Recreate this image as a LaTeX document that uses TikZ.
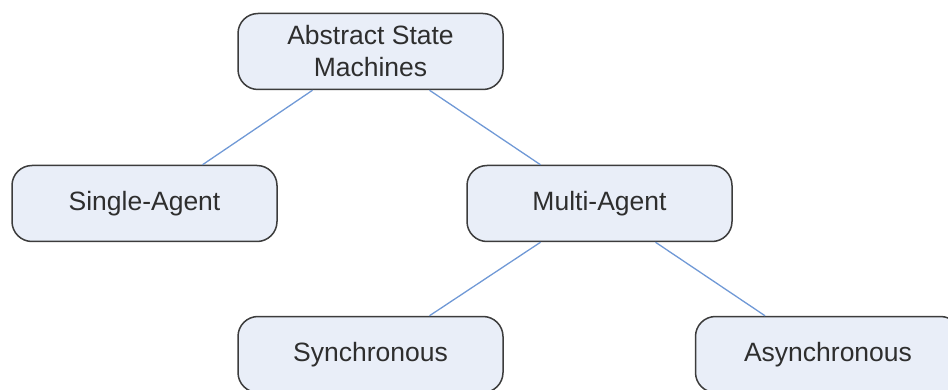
\documentclass[tikz,border=0pt]{standalone}
\usepackage{fontspec}
\setmainfont{Liberation Sans}
\definecolor{boxfill}{HTML}{E9EEF8}
\definecolor{boxdraw}{HTML}{3C3C3C}
\definecolor{linkblue}{HTML}{7099D6}
\definecolor{txt}{HTML}{2E2E2E}
\begin{document}
\begin{tikzpicture}[x=1pt,y=-1pt,
  box/.style={draw=boxdraw, line width=1.5pt, fill=boxfill, rounded corners=20pt,
    minimum width=265pt, minimum height=76pt, inner sep=0pt, align=center,
    text=txt, font=\fontsize{26.5}{32}\selectfont},
  link/.style={draw=linkblue, line width=1.3pt}]
\useasboundingbox (0,0) rectangle (948,390);
\node[box] (asm) at (370.5,51.5) {Abstract State\\Machines};
\node[box] (single) at (144.5,203.5) {Single-Agent};
\node[box] (multi) at (599.5,203.5) {Multi-Agent};
\node[box] (sync) at (370.5,354.5) {Synchronous};
\node[box] (async) at (828,354.5) {Asynchronous};
\draw[link] ([xshift=-58pt]asm.south) -- ([xshift=58pt]single.north);
\draw[link] ([xshift=59pt]asm.south) -- ([xshift=-59pt]multi.north);
\draw[link] ([xshift=-59pt]multi.south) -- ([xshift=59pt]sync.north);
\draw[link] ([xshift=56pt]multi.south) -- ([xshift=-63pt]async.north);
\end{tikzpicture}
\end{document}
